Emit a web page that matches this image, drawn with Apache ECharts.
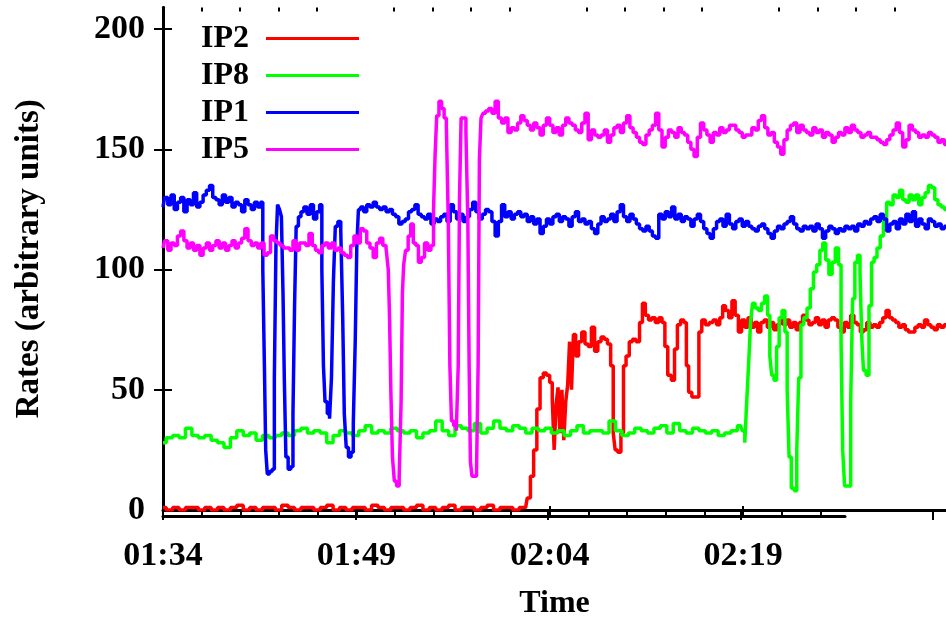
<!DOCTYPE html>
<html><head><meta charset="utf-8">
<script src="https://cdn.jsdelivr.net/npm/echarts@6/dist/echarts.min.js"></script>
<style>html,body{margin:0;padding:0;background:#fff}#c{width:946px;height:625px}</style>
</head><body><div id="c"></div>
<script>
// x values are minutes after 01:34
const xTickMinutes = [0, 15, 30, 45];
const xTickLabels = ['01:34', '01:49', '02:04', '02:19'];
const yTicks = [0, 50, 100, 150, 200];
const seriesNames = ['IP2', 'IP8', 'IP1', 'IP5'];
const seriesColors = ['#ff0000', '#00ff00', '#0000ff', '#ff00ff'];

const ip2 = [[0,1],[0.5,0],[1,1],[1.5,0],[2,1],[2.5,1],[3,0],[3.5,1],[4,0],[4.5,1],[5,0],[5.5,1],[6,2],[6.5,0],[7,1],[7.5,0],[8,1],[8.5,1],[9,0],[9.5,2],[10,1],[10.5,0],[11,1],[11.5,1],[12,0],[12.5,1],[13,2],[13.5,0],[14,1],[14.5,0],[15,1],[15.5,1],[16,0],[16.5,2],[17,1],[17.5,0],[18,1],[18.5,1],[19,0],[19.5,1],[20,2],[20.5,0],[21,1],[21.5,0],[22,1],[22.5,2],[23,0],[23.5,1],[24,1],[24.5,0],[25,1],[25.5,2],[26,0],[26.5,1],[27,1],[27.5,0],[28,1],[28.25,1],[28.5,5],[28.75,14],[29,25],[29.25,42],[29.5,55],[29.75,57],[30,56],[30.25,53],[30.4,46],[30.55,25],[30.7,44],[30.85,51],[31.0,32],[31.15,50],[31.3,29],[31.45,45],[31.6,52],[31.75,70],[31.9,50],[32.05,73],[32.25,64],[32.5,70],[32.75,74],[33.0,69],[33.25,68],[33.5,76],[33.75,66],[34.0,70],[34.25,72],[34.5,71],[34.75,69],[35.0,60],[35.15,32],[35.3,25],[35.55,24],[35.8,32],[35.95,60],[36.2,64],[36.45,70],[36.7,71],[37.0,70],[37.25,78],[37.45,86],[37.7,81],[37.95,79],[38.2,80],[38.5,78],[38.75,80],[39.0,78],[39.2,68],[39.45,56],[39.75,54],[39.95,67],[40.2,77],[40.45,79],[40.7,78],[40.85,60],[41.05,49],[41.35,47],[41.65,47],[41.85,74],[42.1,79],[42.4,77],[42.7,78],[43.0,79],[43.25,77],[43.5,80],[43.7,85],[43.95,83],[44.2,80],[44.45,87],[44.7,81],[44.95,74],[45.2,79],[45.45,76],[45.7,80],[45.95,76],[46.2,78],[46.45,74],[46.7,78],[46.95,79],[47.2,76],[47.45,78],[47.7,75],[47.95,77],[48.2,80],[48.45,77],[48.7,79],[48.95,76],[49.2,78],[49.45,75],[49.7,78],[49.95,81],[50.2,79],[50.45,77],[50.7,78],[50.95,80],[51.2,77],[51.45,79],[51.7,76],[51.95,79],[52.2,80],[52.45,79],[52.7,76],[52.95,74],[53.2,78],[53.45,76],[53.7,81],[53.95,78],[54.2,77],[54.45,74],[54.7,75],[54.95,78],[55.2,76],[55.45,77],[55.7,76],[55.95,78],[56.2,80],[56.45,83],[56.7,80],[56.95,79],[57.2,78],[57.45,76],[57.7,77],[57.95,75],[58.2,74],[58.45,74],[58.7,76],[58.95,77],[59.2,76],[59.45,79],[59.7,77],[59.95,76],[60.2,75],[60.45,77],[60.7,76],[61,77]];

const ip8 = [[0,28],[0.5,30],[1,31],[1.5,30],[2,34],[2.5,31],[3,30],[3.5,31],[4,29],[4.5,28],[5,26],[5.5,30],[6,33],[6.5,31],[7,32],[7.5,29],[8,31],[8.5,30],[9,31],[9.5,32],[10,31],[10.5,33],[11,34],[11.5,32],[12,33],[12.5,32],[13,28],[13.5,31],[14,33],[14.5,32],[15,31],[15.5,33],[16,35],[16.5,32],[17,33],[17.5,32],[18,34],[18.5,33],[19,32],[19.5,33],[20,30],[20.5,32],[21,33],[21.5,37],[22,33],[22.5,31],[23,35],[23.5,34],[24,33],[24.5,36],[25,32],[25.5,34],[26,37],[26.5,34],[27,33],[27.5,35],[28,34],[28.5,32],[29,34],[29.5,33],[30,34],[30.5,32],[31,33],[31.5,31],[32,33],[32.5,35],[33,32],[33.5,33],[34,33],[34.5,32],[35,37],[35.5,33],[36,31],[36.5,32],[37,34],[37.5,33],[38,32],[38.5,34],[39,35],[39.5,32],[40,36],[40.5,33],[41,32],[41.5,34],[42,33],[42.5,32],[43,33],[43.5,31],[44,32],[44.5,33],[45,35],[45.25,33],[45.4,28],[45.55,45],[45.7,61],[45.85,78],[46.0,86],[46.25,84],[46.5,83],[46.75,86],[47.0,89],[47.2,81],[47.35,64],[47.5,56],[47.7,54],[47.9,68],[48.1,80],[48.35,83],[48.55,74],[48.7,50],[48.85,22],[49.05,9],[49.3,8],[49.45,25],[49.6,55],[49.8,77],[50.05,80],[50.3,84],[50.55,92],[50.8,99],[51.05,102],[51.3,108],[51.5,111],[51.75,104],[52.0,98],[52.25,103],[52.5,109],[52.75,102],[52.9,70],[53.0,25],[53.2,10],[53.5,10],[53.65,45],[53.8,88],[54.0,103],[54.2,106],[54.4,98],[54.5,70],[54.65,58],[54.9,56],[55.1,85],[55.3,103],[55.5,105],[55.75,109],[56.0,114],[56.25,121],[56.5,128],[56.75,127],[57.0,131],[57.25,130],[57.5,133],[57.75,129],[58.0,128],[58.25,131],[58.5,129],[58.75,131],[59.0,127],[59.25,130],[59.5,132],[59.75,135],[60.0,134],[60.25,129],[60.5,127],[60.75,126],[61,125]];

const ip1 = [[0,126],[0.25,130],[0.5,127],[0.75,131],[1,125],[1.25,128],[1.5,130],[1.75,124],[2,129],[2.25,127],[2.5,132],[2.75,126],[3,128],[3.25,131],[3.5,133],[3.75,135],[4,130],[4.25,129],[4.5,127],[4.75,131],[5,128],[5.25,130],[5.5,126],[5.75,128],[6,127],[6.25,124],[6.5,129],[6.75,127],[7,125],[7.25,128],[7.5,126],[7.7,128],[7.85,100],[7.95,60],[8.05,25],[8.2,15],[8.4,16],[8.6,17],[8.75,55],[8.85,110],[9.0,127],[9.15,125],[9.3,122],[9.4,90],[9.5,55],[9.65,22],[9.85,17],[10.05,18],[10.2,40],[10.3,85],[10.45,118],[10.65,122],[10.85,124],[11.1,126],[11.35,123],[11.6,127],[11.85,121],[12.1,124],[12.3,127],[12.45,100],[12.55,60],[12.7,45],[12.9,40],[13.05,38],[13.2,55],[13.35,95],[13.5,118],[13.75,120],[13.95,116],[14.05,80],[14.2,40],[14.35,26],[14.55,22],[14.75,24],[14.9,36],[15.05,70],[15.15,110],[15.3,125],[15.5,126],[15.75,124],[16.0,127],[16.25,126],[16.5,128],[16.75,126],[17.0,125],[17.25,126],[17.5,124],[17.75,125],[18.0,123],[18.25,122],[18.5,119],[18.75,120],[19.0,121],[19.25,124],[19.5,125],[19.75,127],[20.0,123],[20.25,122],[20.5,121],[20.75,123],[21.0,119],[21.25,121],[21.5,120],[21.75,122],[22.0,123],[22.25,120],[22.5,127],[22.75,124],[23.0,121],[23.25,123],[23.5,120],[23.75,122],[24.0,125],[24.25,128],[24.5,124],[24.75,121],[25.0,123],[25.25,125],[25.5,124],[25.75,120],[26.0,114],[26.25,120],[26.5,127],[26.75,122],[27.0,124],[27.25,121],[27.5,123],[27.75,124],[28.0,122],[28.25,123],[28.5,120],[28.75,122],[29.0,119],[29.25,121],[29.5,115],[29.75,118],[30.0,121],[30.25,119],[30.5,122],[30.75,123],[31.0,120],[31.25,122],[31.5,121],[31.75,118],[32.0,122],[32.25,124],[32.5,120],[32.75,121],[33.0,119],[33.25,120],[33.5,117],[33.75,115],[34.0,119],[34.25,122],[34.5,120],[34.75,121],[35.0,123],[35.25,120],[35.5,124],[35.75,127],[36.0,122],[36.25,120],[36.5,123],[36.75,121],[37.0,119],[37.25,117],[37.5,116],[37.75,118],[38.0,116],[38.25,114],[38.5,113],[38.75,123],[39.0,121],[39.25,124],[39.5,122],[39.75,126],[40.0,121],[40.25,123],[40.5,120],[40.75,122],[41.0,121],[41.25,118],[41.5,121],[41.75,123],[42.0,120],[42.25,117],[42.5,115],[42.75,113],[43.0,117],[43.25,120],[43.5,121],[43.75,118],[44.0,123],[44.25,119],[44.5,117],[44.75,120],[45.0,121],[45.25,118],[45.5,120],[45.75,118],[46.0,117],[46.25,116],[46.5,118],[46.75,119],[47.0,117],[47.25,115],[47.5,113],[47.75,116],[48.0,118],[48.25,117],[48.5,119],[48.75,120],[49.0,122],[49.25,119],[49.5,117],[49.75,116],[50.0,118],[50.25,117],[50.5,118],[50.75,116],[51.0,119],[51.25,117],[51.5,113],[51.75,116],[52.0,118],[52.25,117],[52.5,115],[52.75,117],[53.0,116],[53.25,118],[53.5,117],[53.75,118],[54.0,116],[54.25,119],[54.5,118],[54.75,120],[55.0,119],[55.25,121],[55.5,122],[55.75,120],[56.0,123],[56.25,121],[56.5,116],[56.75,119],[57.0,120],[57.25,117],[57.5,121],[57.75,119],[58.0,123],[58.25,120],[58.5,124],[58.75,118],[59.0,121],[59.25,119],[59.5,117],[59.75,121],[60.0,120],[60.25,118],[60.5,119],[60.75,117],[61,118]];

const ip5 = [[0,109],[0.25,112],[0.5,108],[0.75,111],[1.0,110],[1.25,114],[1.5,116],[1.75,112],[2.0,109],[2.25,111],[2.5,108],[2.75,110],[3.0,106],[3.25,109],[3.5,111],[3.75,108],[4.0,110],[4.25,112],[4.5,109],[4.75,111],[5.0,108],[5.25,110],[5.5,112],[5.75,109],[6.0,111],[6.25,113],[6.5,117],[6.75,112],[7.0,110],[7.25,111],[7.5,109],[7.75,111],[8.0,106],[8.25,107],[8.5,114],[8.75,112],[9.0,111],[9.25,110],[9.5,109],[9.75,109],[10.0,108],[10.25,112],[10.5,108],[10.75,111],[11.0,111],[11.25,110],[11.5,115],[11.75,110],[12.0,108],[12.25,107],[12.5,110],[12.75,111],[13.0,109],[13.25,111],[13.5,108],[13.75,109],[14.0,107],[14.25,106],[14.5,105],[14.75,110],[15.0,114],[15.25,111],[15.5,117],[15.75,116],[16.0,111],[16.25,109],[16.5,105],[16.75,111],[17.0,113],[17.25,110],[17.5,109],[17.6,100],[17.7,80],[17.8,50],[17.95,22],[18.1,12],[18.3,10],[18.5,14],[18.6,45],[18.7,90],[18.8,102],[19.0,108],[19.2,114],[19.4,119],[19.6,111],[19.8,110],[20.0,103],[20.25,105],[20.5,111],[20.75,108],[21.0,110],[21.15,125],[21.25,148],[21.4,164],[21.6,170],[21.8,167],[22.0,163],[22.15,160],[22.3,120],[22.4,60],[22.55,37],[22.75,35],[22.95,33],[23.05,60],[23.15,130],[23.3,163],[23.5,163],[23.7,157],[23.8,120],[23.9,60],[24.0,20],[24.15,14],[24.35,14],[24.5,16],[24.6,60],[24.7,146],[24.85,163],[25.0,165],[25.25,166],[25.5,167],[25.75,165],[26.0,170],[26.25,163],[26.5,161],[26.75,163],[27.0,157],[27.25,159],[27.5,158],[27.75,161],[28.0,164],[28.25,162],[28.5,160],[28.75,158],[29.0,161],[29.25,159],[29.5,156],[29.75,160],[30.0,163],[30.25,160],[30.5,157],[30.75,159],[31.0,156],[31.25,160],[31.5,163],[31.75,161],[32.0,160],[32.25,158],[32.5,157],[32.75,161],[33.0,165],[33.25,154],[33.5,158],[33.75,156],[34.0,155],[34.25,156],[34.5,158],[34.75,153],[35.0,156],[35.25,159],[35.5,160],[35.75,157],[36.0,161],[36.25,164],[36.5,159],[36.75,157],[37.0,155],[37.25,153],[37.5,152],[37.75,156],[38.0,158],[38.25,160],[38.5,165],[38.75,158],[39.0,151],[39.25,155],[39.5,158],[39.75,157],[40.0,155],[40.25,159],[40.5,157],[40.75,156],[41.0,153],[41.25,150],[41.5,147],[41.75,155],[42.0,161],[42.25,158],[42.5,156],[42.75,153],[43.0,157],[43.25,156],[43.5,159],[43.75,157],[44.0,158],[44.25,160],[44.5,160],[44.75,158],[45.0,157],[45.25,155],[45.5,156],[45.75,156],[46.0,159],[46.25,158],[46.5,162],[46.75,164],[47.0,159],[47.25,156],[47.5,157],[47.75,153],[48.0,151],[48.25,148],[48.5,154],[48.75,158],[49.0,160],[49.25,161],[49.5,157],[49.75,160],[50.0,158],[50.25,157],[50.5,156],[50.75,159],[51.0,157],[51.25,158],[51.5,155],[51.75,157],[52.0,156],[52.25,153],[52.5,155],[52.75,157],[53.0,156],[53.25,159],[53.5,157],[53.75,160],[54.0,158],[54.25,157],[54.5,155],[54.75,156],[55.0,157],[55.25,155],[55.5,155],[55.75,154],[56.0,153],[56.25,152],[56.5,154],[56.75,156],[57.0,158],[57.25,161],[57.5,157],[57.75,151],[58.0,154],[58.25,160],[58.5,158],[58.75,157],[59.0,155],[59.25,156],[59.5,155],[59.75,157],[60.0,156],[60.25,155],[60.5,153],[60.75,154],[61,152]];

const seriesData = [ip2, ip8, ip1, ip5];

const FONT = '"Liberation Serif", "DejaVu Serif", serif';
const X_MAX = 61, X_AXIS_END = 52.9, Y_MAX = 209;
const majorX = [0, 15, 30, 45, 60];
const minorX = [];
for (let m = 3; m < 61; m += 3) if (m % 15 !== 0) minorX.push(m);

function fmtX(v) {
  const i = xTickMinutes.indexOf(Math.round(v));
  return i >= 0 ? xTickLabels[i] : '';
}
const black = { color: '#000', width: 3 };
const tickStyle = { color: '#000', width: 2 };

const chart = echarts.init(document.getElementById('c'), null, { renderer: 'canvas' });
chart.setOption({
  animation: false,
  backgroundColor: '#fff',
  grid: [
    { left: 163, top: 7.5, width: 787, height: 508.5 },
    { left: 163, top: 7.5, width: 682, height: 508.5 }
  ],
  legend: {
    data: seriesNames, orient: 'vertical', left: 196, top: 15, align: 'right',
    icon: 'rect', itemWidth: 93, itemHeight: 3, itemGap: 0,
    textStyle: { fontFamily: FONT, fontSize: 32, fontWeight: 'bold', color: '#000', lineHeight: 37, padding: [0, 12, 0, 0] }
  },
  xAxis: [
    { gridIndex: 0, type: 'value', min: 0, max: X_MAX, position: 'bottom',
      axisLine: { show: false }, axisTick: { show: false }, axisLabel: { show: false }, splitLine: { show: false },
      name: 'Time', nameLocation: 'middle', nameGap: 78,
      nameTextStyle: { fontFamily: FONT, fontSize: 32, fontWeight: 'bold', color: '#000' } },
    { gridIndex: 0, type: 'value', min: 0, max: X_MAX, position: 'top',
      axisLine: { show: true, lineStyle: black },
      axisTick: { show: true, inside: true, length: 10, customValues: majorX, lineStyle: tickStyle },
      axisLabel: { show: false }, splitLine: { show: false } },
    { gridIndex: 0, type: 'value', min: 0, max: X_MAX, position: 'top',
      axisLine: { show: false },
      axisTick: { show: true, inside: true, length: 4, customValues: minorX, lineStyle: tickStyle },
      axisLabel: { show: false }, splitLine: { show: false } },
    { gridIndex: 1, type: 'value', min: 0, max: X_AXIS_END, position: 'bottom',
      axisLine: { show: true, lineStyle: black },
      axisTick: { show: true, inside: true, length: 10, customValues: xTickMinutes, lineStyle: tickStyle },
      axisLabel: { show: true, customValues: xTickMinutes, formatter: fmtX, margin: 23,
        fontFamily: FONT, fontSize: 34, fontWeight: 'bold', color: '#000' },
      splitLine: { show: false } },
    { gridIndex: 1, type: 'value', min: 0, max: X_AXIS_END, position: 'bottom',
      axisLine: { show: false },
      axisTick: { show: true, inside: true, length: 4, customValues: minorX.filter(m => m < X_AXIS_END), lineStyle: tickStyle },
      axisLabel: { show: false }, splitLine: { show: false } }
  ],
  yAxis: [
    { gridIndex: 0, type: 'value', min: 0, max: Y_MAX, position: 'left',
      axisLine: { show: true, lineStyle: black },
      axisTick: { show: true, inside: true, length: 9, customValues: yTicks, lineStyle: tickStyle },
      axisLabel: { show: true, customValues: yTicks, margin: 18, fontFamily: FONT, fontSize: 34, fontWeight: 'bold', color: '#000' },
      splitLine: { show: false },
      name: 'Rates (arbitrary units)', nameLocation: 'middle', nameRotate: 90, nameGap: 117,
      nameTextStyle: { fontFamily: FONT, fontSize: 33, fontWeight: 'bold', color: '#000' } },
    { gridIndex: 0, type: 'value', min: 0, max: Y_MAX, position: 'right',
      axisLine: { show: true, lineStyle: black },
      axisTick: { show: true, inside: true, length: 9, customValues: yTicks.filter(v => v > 0), lineStyle: tickStyle },
      axisLabel: { show: false }, splitLine: { show: false } },
    { gridIndex: 1, type: 'value', min: 0, max: 1, show: false }
  ],
  series: seriesNames.map((name, i) => ({
    name, type: 'line', xAxisIndex: 0, yAxisIndex: 0, data: seriesData[i],
    step: 'middle', showSymbol: false, symbol: 'none',
    lineStyle: { color: seriesColors[i], width: 3.5 },
    itemStyle: { color: seriesColors[i] }, z: 2 + i
  }))
});
</script></body></html>
